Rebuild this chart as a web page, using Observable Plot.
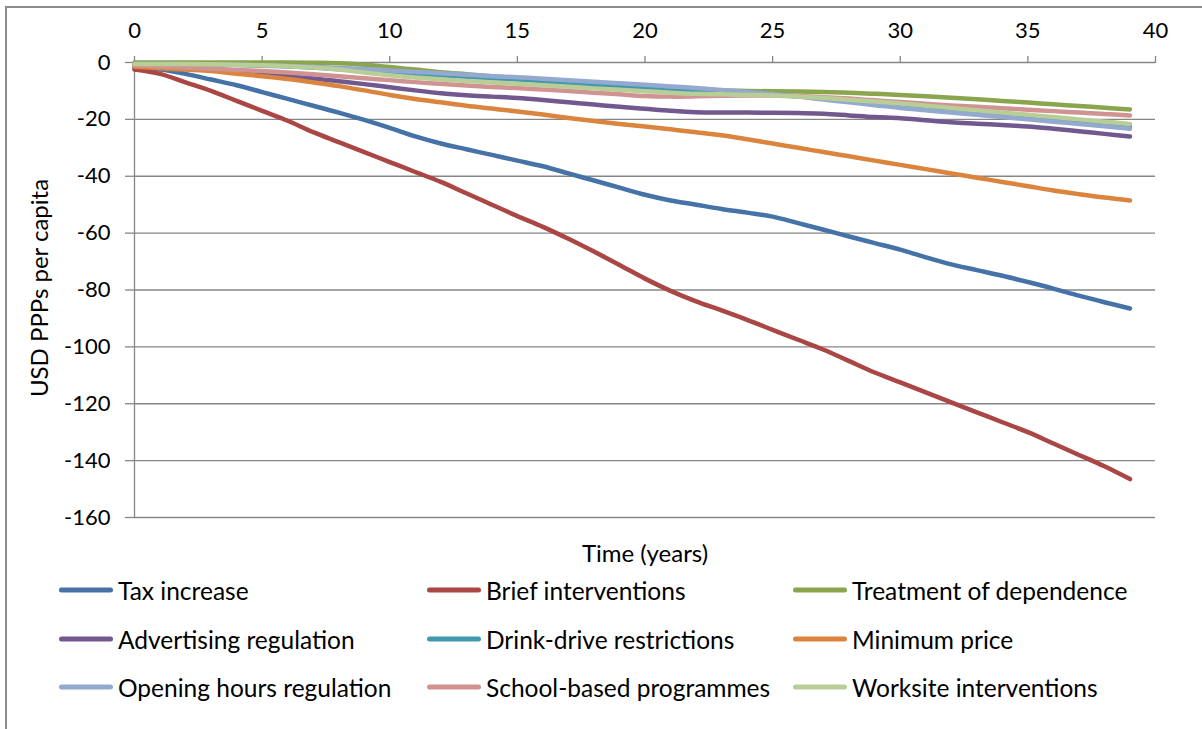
<!DOCTYPE html>
<html>
<head>
<meta charset="utf-8">
<script src="https://cdn.jsdelivr.net/npm/d3@7"></script>
<script src="https://cdn.jsdelivr.net/npm/@observablehq/plot@0.6"></script>
<style>
  html, body { margin: 0; padding: 0; background: #fff; }
  #wrap { position: relative; width: 1202px; height: 729px; overflow: hidden; background: #fff; font-family: Lato, "Open Sans", sans-serif; color: #000; }
  #frame { position: absolute; left: 5px; top: 6px; width: 1400px; height: 900px; border: 2px solid #8c8c8c; box-sizing: border-box; }
  #chart { position: absolute; left: 0; top: 0; }
  #ytitle { position: absolute; left: 38px; top: 288px; transform: translate(-50%, -50%) rotate(-90deg); font-size: 24px; white-space: nowrap; }
  #xtitle { position: absolute; left: 645px; top: 552px; transform: translate(-50%, -50%); font-size: 24px; white-space: nowrap; }
  .leg { position: absolute; display: flex; align-items: center; transform: translateY(-50%); font-size: 24.5px; white-space: nowrap; }
  .sw { width: 54px; height: 5px; border-radius: 3px; margin-right: 5px; }
</style>
</head>
<body>
<div id="wrap">
  <div id="frame"></div>
  <div id="chart"></div>
  <div id="ytitle">USD PPPs per capita</div>
  <div id="xtitle">Time (years)</div>
  <div id="legend"></div>
</div>
<script>
const years = d3.range(0, 40);
const seriesNames = [
  "Tax increase", "Brief interventions", "Treatment of dependence",
  "Advertising regulation", "Drink-drive restrictions", "Minimum price",
  "Opening hours regulation", "School-based programmes", "Worksite interventions"
];
const seriesColors = ["#4572A7", "#AA4643", "#89A54E", "#71588F", "#4198AF", "#DB843D", "#93A9CF", "#D19392", "#B9CD96"];
const xTicks = [0, 5, 10, 15, 20, 25, 30, 35, 40];
const yTicks = [0, -20, -40, -60, -80, -100, -120, -140, -160];

const taxIncrease = [-2, -2.5, -4, -6, -8, -10.4, -12.8, -15.2, -17.6, -20.2, -23, -26, -28.5, -30.5, -32.5, -34.5, -36.5, -39, -41.5, -44, -46.5, -48.5, -50, -51.5, -52.8, -54.2, -56.5, -58.8, -61.2, -63.5, -65.8, -68.5, -71, -73, -75, -77.2, -79.5, -82, -84.3, -86.5];
const briefInterventions = [-2.5, -4, -7, -10, -13.5, -17, -20.5, -24.5, -28, -31.5, -35, -38.5, -42, -46, -50, -54, -57.8, -62, -66.5, -71.2, -76, -80.3, -84, -87.2, -90.5, -94, -97.5, -101, -105, -109, -112.5, -116, -119.5, -123, -126.5, -130, -134, -138, -142, -146.5];
const treatmentDependence = [0, 0, 0, 0, 0, 0, 0, -0.1, -0.3, -0.8, -1.6, -2.5, -3.4, -4.1, -4.8, -5.5, -6.1, -6.7, -7.3, -7.9, -8.5, -9, -9.4, -9.8, -10, -10.1, -10.2, -10.4, -10.6, -11, -11.4, -11.9, -12.4, -12.9, -13.5, -14.1, -14.7, -15.3, -15.9, -16.5];
const advertisingRegulation = [-1, -1.5, -2, -2.7, -3.3, -4, -4.8, -5.6, -6.6, -7.6, -8.7, -9.8, -10.8, -11.5, -12, -12.5, -13.2, -14, -14.8, -15.6, -16.3, -17, -17.5, -17.6, -17.6, -17.7, -17.8, -18, -18.6, -19.2, -19.6, -20.3, -21, -21.5, -22, -22.5, -23.3, -24.2, -25.1, -26];
const drinkDrive = [-0.5, -0.5, -0.6, -0.7, -0.9, -1.1, -1.4, -1.8, -2.4, -3, -3.5, -4, -4.5, -5, -5.5, -6, -6.6, -7.2, -7.8, -8.4, -8.9, -9.4, -9.9, -10.4, -10.8, -11.2, -11.9, -12.6, -13.4, -14.2, -15, -15.9, -16.8, -17.6, -18.5, -19.3, -20.2, -21, -21.9, -22.7];
const minimumPrice = [-1.5, -2, -2.5, -3, -4, -4.8, -5.8, -7, -8.3, -9.8, -11.4, -12.8, -14, -15.2, -16.2, -17.2, -18.3, -19.5, -20.6, -21.6, -22.5, -23.5, -24.5, -25.6, -27, -28.5, -30, -31.5, -33, -34.5, -36, -37.5, -39, -40.5, -42, -43.5, -45, -46.3, -47.5, -48.5];
const openingHours = [-0.5, -0.5, -0.6, -0.7, -0.8, -1, -1.2, -1.5, -1.9, -2.3, -2.8, -3.3, -3.8, -4.3, -4.8, -5.2, -5.7, -6.2, -6.8, -7.3, -7.8, -8.4, -9, -9.7, -10.4, -11.1, -12, -13, -14, -15, -16, -16.8, -17.6, -18.4, -19.2, -20, -20.8, -21.6, -22.4, -23.3];
const schoolBased = [-1, -1.4, -1.8, -2.2, -2.6, -3, -3.5, -4.1, -4.8, -5.5, -6.2, -6.9, -7.5, -8.1, -8.6, -9, -9.5, -10, -10.6, -11.2, -11.8, -12, -11.9, -11.7, -11.6, -11.6, -11.8, -12.2, -12.7, -13.3, -13.9, -14.5, -15.1, -15.6, -16.1, -16.6, -17.1, -17.6, -18.1, -18.6];
const worksite = [-0.5, -0.5, -0.5, -0.6, -0.8, -1, -1.3, -1.8, -2.5, -3.5, -4.5, -5.3, -5.9, -6.5, -7, -7.5, -8, -8.5, -9.1, -9.6, -10.1, -10.6, -11, -11.2, -11.4, -11.6, -12, -12.5, -13.1, -13.7, -14.4, -15.2, -16, -16.8, -17.6, -18.4, -19.2, -20, -20.8, -21.6];

const seriesValues = [taxIncrease, briefInterventions, treatmentDependence, advertisingRegulation, drinkDrive, minimumPrice, openingHours, schoolBased, worksite];

const data = [];
seriesNames.forEach((name, i) => {
  seriesValues[i].forEach((v, j) => data.push({series: name, t: years[j], v}));
});

const fmt = d => (d < 0 ? "-" + Math.abs(d) : String(d));

const chart = Plot.plot({
  width: 1202,
  height: 545,
  marginLeft: 134,
  marginRight: 47,
  marginTop: 62,
  marginBottom: 28,
  style: {fontFamily: "Lato, 'Open Sans', sans-serif", fontSize: "22px", color: "#000", background: "transparent", overflow: "visible"},
  x: {domain: [0, 40]},
  y: {domain: [-160, 0]},
  color: {domain: seriesNames, range: seriesColors},
  marks: [
    Plot.ruleY(yTicks, {stroke: "#868686", strokeWidth: 1.3}),
    Plot.ruleX([0], {y1: -160, y2: 0, stroke: "#868686", strokeWidth: 1.3}),
    Plot.axisX({anchor: "top", ticks: xTicks, tickSize: 7, tickPadding: 18, tickFormat: fmt, label: null, stroke: "#868686", fill: "#000", strokeWidth: 1.3}),
    Plot.axisY({anchor: "left", ticks: yTicks, tickSize: 9, tickPadding: 15, tickFormat: fmt, label: null, stroke: "#868686", fill: "#000", strokeWidth: 1.3}),
    Plot.line(data, {x: "t", y: "v", z: "series", stroke: "series", strokeWidth: 4.5, curve: "catmull-rom", strokeLinecap: "round", strokeLinejoin: "round"})
  ]
});
document.getElementById("chart").appendChild(chart);

const legend = document.getElementById("legend");
const colX = [59, 427, 793];
const rowY = [590, 639, 687];
seriesNames.forEach((name, i) => {
  const el = document.createElement("div");
  el.className = "leg";
  el.style.left = colX[i % 3] + "px";
  el.style.top = rowY[Math.floor(i / 3)] + "px";
  const sw = document.createElement("div");
  sw.className = "sw";
  sw.style.background = seriesColors[i];
  const tx = document.createElement("span");
  tx.textContent = name;
  el.appendChild(sw);
  el.appendChild(tx);
  legend.appendChild(el);
});
</script>
</body>
</html>
